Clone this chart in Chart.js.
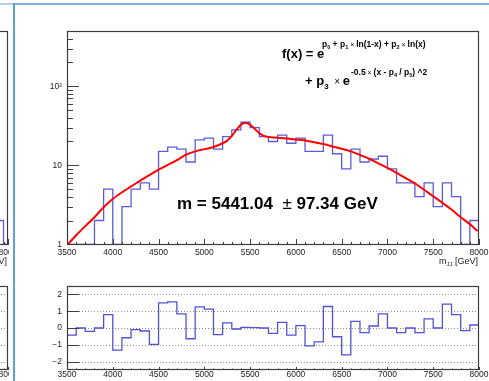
<!DOCTYPE html>
<html>
<head>
<meta charset="utf-8">
<title>m_JJ fit</title>
<script src="https://cdn.jsdelivr.net/npm/chart.js@4.4.1/dist/chart.umd.min.js"></script>
<style>
  html, body { margin: 0; padding: 0; background: #fff; }
  body { width: 489px; height: 381px; position: relative; overflow: hidden; }
  canvas { position: absolute; }
  #leftClip { position: absolute; left: 0; top: 0; width: 13px; height: 381px; overflow: hidden; }
  #hline0 { position: absolute; left: 0; top: 3px; width: 14px; height: 2px; background: #b9cfe4; }
  #hline { position: absolute; left: 14px; top: 3px; width: 475px; height: 2px; background: #7db1e2; }
  #vline { position: absolute; left: 13px; top: 3px; width: 2px; height: 378px; background: #5f9fda; }
</style>
</head>
<body>
<div id="leftClip">
  <canvas id="leftTop" width="270" height="270" style="left:-261px;top:0;width:270px;height:270px"></canvas>
  <canvas id="leftBottom" width="270" height="101" style="left:-261px;top:280px;width:270px;height:101px"></canvas>
</div>
<canvas id="mainTop" width="489" height="270" style="left:0;top:0;width:489px;height:270px"></canvas>
<canvas id="mainBottom" width="489" height="101" style="left:0;top:280px;width:489px;height:101px"></canvas>
<div id="hline0"></div><div id="hline"></div><div id="vline"></div>

<script>
// ---- datos ----
const binLow = [
  3500, 3600, 3700, 3800, 3900, 4000, 4100, 4200, 4300, 4400,
  4500, 4600, 4700, 4800, 4900, 5000, 5100, 5200, 5300, 5400,
  5500, 5600, 5700, 5800, 5900, 6000, 6100, 6200, 6300, 6400,
  6500, 6600, 6700, 6800, 6900, 7000, 7100, 7200, 7300, 7400,
  7500, 7600, 7700, 7800, 7900
];
const binEnd = 8000;

// cuentas por bin (panel superior, escala log)
const counts = [
  1, 1, 1, 2, 5, 1, 3, 5, 6, 5,
  15, 17, 16, 11, 21, 22, 16, 23, 28, 35,
  30, 23, 20, 24, 19, 22, 15, 15, 24, 14,
  9, 16, 11, 12, 13, 9, 6, 6, 4, 6,
  3, 6, 4, 1, 2
];

// residuos (panel inferior)
const residuals = [
  -0.42, 0, -0.2, 0, 0.8, -1.32, -0.58, -0.1, -0.18, -0.98,
  1.5, 1.56, 0.84, -0.64, 1.26, 1.12, -0.4, 0.3, -0.06, 0.04,
  0.02, 0, -0.32, 0.34, -0.42, 0.14, -1.06, -0.82, 1.28, -0.52,
  -1.6, 0.4, -0.28, 0.12, 0.84, 0, -0.28, 0, -0.28, 0.54,
  0, 1.42, 0.8, -0.16, 0.18
];

// curva del ajuste (roja), muestreada del dibujo
const fitX = [
  3510, 3600, 3700, 3800, 3900, 4000, 4100, 4200, 4300, 4400,
  4500, 4600, 4700, 4800, 4900, 5000, 5100, 5200, 5250, 5300,
  5350, 5400, 5450, 5500, 5550, 5600, 5650, 5700, 5800, 5900,
  6000, 6100, 6200, 6300, 6400, 6500, 6600, 6700, 6800, 6900,
  7000, 7100, 7200, 7300, 7400, 7500, 7600, 7700, 7800, 7900, 7985
];
const fitY = [
  1.0, 1.3, 1.7, 2.2, 2.95, 3.75, 4.55, 5.4, 6.4, 7.5,
  8.8, 10.1, 11.6, 13.6, 15.0, 16.0, 17.0, 19.0, 20.5, 23.5,
  28.0, 32.5, 34.5, 32.5, 29.0, 25.5, 23.6, 22.8, 22.3, 21.8,
  21.2, 20.6, 19.6, 18.6, 17.3, 16.2, 15.0, 13.5, 12.1, 10.6,
  9.3, 8.0, 6.9, 5.9, 4.9, 4.05, 3.35, 2.75, 2.2, 1.8, 1.47
];

// trozo visible del panel de la izquierda (cortado)
const leftTailLow = [7700, 7800, 7900];
const leftTailCounts = [1, 2, 1];

// ejes
const xMin = 3500, xMax = 8000;
const xTickValues = [3500, 4000, 4500, 5000, 5500, 6000, 6500, 7000, 7500, 8000];
const yMin = 0.98, yMax = 500;
const yTickValues = [1, 10, 100];
const yTickLabels = ['1', '10', '10²'];
const resMin = -2.5, resMax = 2.5;
const resTickValues = [-2, -1, 0, 1, 2];
const resTickLabels = ['−2', '−1', '0', '1', '2'];

const FONT = "'Liberation Sans', Arial, Helvetica, sans-serif";
const HIST_BLUE = '#5c5cd6';
const RES_BLUE = '#5252d2';

// histograma como escalones
function stepPoints(lows, vals, end, base, startBase) {
  const pts = [];
  if (startBase !== undefined) pts.push({ x: lows[0], y: startBase });
  lows.forEach((x, i) => pts.push({ x: x, y: vals[i] }));
  pts.push({ x: end, y: vals[vals.length - 1] });
  pts.push({ x: end, y: base });
  return pts;
}

function drawRuns(ctx, x, y, runs) {
  runs.forEach(r => {
    ctx.font = r.f;
    ctx.fillText(r.t, x, y + (r.dy || 0));
    x += ctx.measureText(r.t).width;
  });
  return x;
}

function runsWidth(ctx, runs) {
  let w = 0;
  runs.forEach(r => { ctx.font = r.f; w += ctx.measureText(r.t).width; });
  return w;
}

// marco estilo ROOT: ticks hacia dentro, rejilla punteada, textos
const deco = {
  id: 'deco',
  beforeDatasetsDraw(chart, args, o) {
    if (o.kind !== 'res') return;
    const { ctx, chartArea: a, scales: { y } } = chart;
    ctx.save();
    ctx.strokeStyle = '#8c8c8c';
    ctx.lineWidth = 1;
    ctx.setLineDash([1, 2]);
    resTickValues.forEach(v => {
      const py = Math.round(y.getPixelForValue(v)) + 0.5;
      ctx.beginPath();
      ctx.moveTo(a.left, py);
      ctx.lineTo(a.right, py);
      ctx.stroke();
    });
    ctx.restore();
  },
  afterDraw(chart, args, o) {
    const { ctx, chartArea: a, scales: { x, y } } = chart;
    const isRes = o.kind === 'res';
    ctx.save();
    ctx.strokeStyle = '#404040';
    ctx.lineWidth = 1;
    ctx.beginPath();
    const big = isRes ? 3 : 6, small = isRes ? 1.5 : 3;
    for (let v = xMin; v <= xMax; v += 100) {
      const px = Math.round(x.getPixelForValue(v)) + 0.5;
      const len = (v % 500 === 0) ? big : small;
      ctx.moveTo(px, a.bottom);
      ctx.lineTo(px, a.bottom - len);
    }
    (isRes ? resTickValues : yTickValues).forEach(v => {
      const py = Math.round(y.getPixelForValue(v)) + 0.5;
      ctx.moveTo(a.left, py);
      ctx.lineTo(a.left + 12, py);
    });
    if (!isRes) {
      [1, 10, 100].forEach(d => {
        for (let m = 2; m <= 9; m++) {
          const v = d * m;
          if (v >= yMax) continue;
          const py = Math.round(y.getPixelForValue(v)) + 0.5;
          ctx.moveTo(a.left, py);
          ctx.lineTo(a.left + 6, py);
        }
      });
    }
    ctx.stroke();

    ctx.strokeStyle = '#3c3c3c';
    ctx.lineWidth = 1.2;
    ctx.strokeRect(a.left + 0.5, a.top + 0.5, a.right - a.left - 1, a.bottom - a.top - 1);

    ctx.fillStyle = '#222';
    ctx.textBaseline = 'alphabetic';
    if (o.title) {
      const runs = [
        { t: 'm', f: '9px ' + FONT },
        { t: 'JJ', f: '6px ' + FONT, dy: 2 },
        { t: ' [GeV]', f: '9px ' + FONT }
      ];
      const w = runsWidth(ctx, runs);
      drawRuns(ctx, a.right - 1 - w, a.bottom + 19, runs);
    }
    if (o.formula) {
      ctx.fillStyle = '#000';
      const B = 'bold ', sup = '8.5px ' + FONT, sub = '5.5px ' + FONT;
      drawRuns(ctx, 282, 57.5, [{ t: 'f(x) = e', f: B + '13px ' + FONT }]);
      drawRuns(ctx, 322, 46.5, [
        { t: 'p', f: B + sup }, { t: '0', f: B + sub, dy: 2 },
        { t: ' + p', f: B + sup }, { t: '1', f: B + sub, dy: 2 },
        { t: ' × ', f: '7px ' + FONT },
        { t: 'ln(1-x) + p', f: B + sup }, { t: '2', f: B + sub, dy: 2 },
        { t: ' × ', f: '7px ' + FONT },
        { t: 'ln(x)', f: B + sup }
      ]);
      const ex = drawRuns(ctx, 305, 85, [
        { t: '+ p', f: B + '13px ' + FONT },
        { t: '3', f: B + '8px ' + FONT, dy: 4 },
        { t: '  × ', f: '10px ' + FONT },
        { t: 'e', f: B + '13px ' + FONT }
      ]);
      drawRuns(ctx, ex + 1, 75, [
        { t: '-0.5', f: B + sup },
        { t: ' × ', f: '7px ' + FONT },
        { t: '(x - p', f: B + sup }, { t: '4', f: B + sub, dy: 2 },
        { t: ' / p', f: B + sup }, { t: '5', f: B + sub, dy: 2 },
        { t: ') ^2', f: B + sup }
      ]);
      drawRuns(ctx, 177, 209, [
        { t: 'm = 5441.04  ', f: B + '17px ' + FONT },
        { t: '±', f: '17px ' + FONT },
        { t: ' 97.34 GeV', f: B + '17px ' + FONT }
      ]);
    }
    ctx.restore();
  }
};
Chart.register(deco);

function xScaleOpts(axisH, pad) {
  return {
    type: 'linear', min: xMin, max: xMax,
    grid: { display: false, drawTicks: false },
    border: { display: false },
    afterBuildTicks: s => { s.ticks = xTickValues.map(v => ({ value: v })); },
    afterFit: s => { s.height = axisH; s.paddingLeft = 0; s.paddingRight = 0; },
    ticks: {
      autoSkip: false, maxRotation: 0, minRotation: 0, padding: pad,
      color: '#222', font: { family: FONT, size: 8.5 },
      callback: v => String(v)
    }
  };
}

function logYOpts() {
  return {
    type: 'logarithmic', min: yMin, max: yMax,
    grid: { display: false, drawTicks: false },
    border: { display: false },
    afterBuildTicks: s => { s.ticks = yTickValues.map(v => ({ value: v })); },
    afterFit: s => { s.width = 67; s.paddingTop = 0; s.paddingBottom = 0; },
    ticks: {
      padding: 5, color: '#222', font: { family: FONT, size: 8.5 },
      callback: v => { const i = yTickValues.indexOf(v); return i >= 0 ? yTickLabels[i] : ''; }
    }
  };
}

function resYOpts() {
  return {
    type: 'linear', min: resMin, max: resMax,
    grid: { display: false, drawTicks: false },
    border: { display: false },
    afterBuildTicks: s => { s.ticks = resTickValues.map(v => ({ value: v })); },
    afterFit: s => { s.width = 67; s.paddingTop = 0; s.paddingBottom = 0; },
    ticks: {
      padding: 5, color: '#222', font: { family: FONT, size: 8.5 },
      callback: v => { const i = resTickValues.indexOf(v); return i >= 0 ? resTickLabels[i] : ''; }
    }
  };
}

const common = {
  responsive: false,
  animation: false,
  devicePixelRatio: 1,
  events: [],
  elements: { point: { radius: 0 } }
};

function topChart(id, datasets, padRight, deco) {
  return new Chart(document.getElementById(id), {
    type: 'line',
    data: { datasets: datasets },
    options: Object.assign({}, common, {
      layout: { padding: { left: 0, right: padRight, top: 31, bottom: 0 } },
      scales: { x: xScaleOpts(25, 3), y: logYOpts() },
      plugins: { legend: { display: false }, tooltip: { enabled: false }, deco: deco }
    })
  });
}

function bottomChart(id, datasets, padRight) {
  return new Chart(document.getElementById(id), {
    type: 'line',
    data: { datasets: datasets },
    options: Object.assign({}, common, {
      layout: { padding: { left: 0, right: padRight, top: 6, bottom: 0 } },
      scales: { x: xScaleOpts(11, 0), y: resYOpts() },
      plugins: { legend: { display: false }, tooltip: { enabled: false }, deco: { kind: 'res' } }
    })
  });
}

// panel principal
topChart('mainTop', [
  {
    label: 'ajuste',
    data: fitX.map((x, i) => ({ x: x, y: fitY[i] })),
    borderColor: '#ff0000', borderWidth: 2,
    cubicInterpolationMode: 'monotone', order: 0
  },
  {
    label: 'datos',
    data: stepPoints(binLow, counts, binEnd, yMin),
    borderColor: HIST_BLUE, borderWidth: 1.3,
    stepped: true, order: 1
  }
], 10, { kind: 'top', title: true, formula: true });

bottomChart('mainBottom', [
  {
    label: 'residuos',
    data: stepPoints(binLow, residuals, binEnd, 0, 0),
    borderColor: RES_BLUE, borderWidth: 1.3,
    stepped: true
  }
], 10);

// panel izquierdo (solo se ve el borde derecho)
topChart('leftTop', [
  {
    label: 'datos',
    data: stepPoints(leftTailLow, leftTailCounts, binEnd, yMin),
    borderColor: HIST_BLUE, borderWidth: 1.3,
    stepped: true
  }
], 1, { kind: 'top', title: true });

bottomChart('leftBottom', [], 1);
</script>
</body>
</html>
